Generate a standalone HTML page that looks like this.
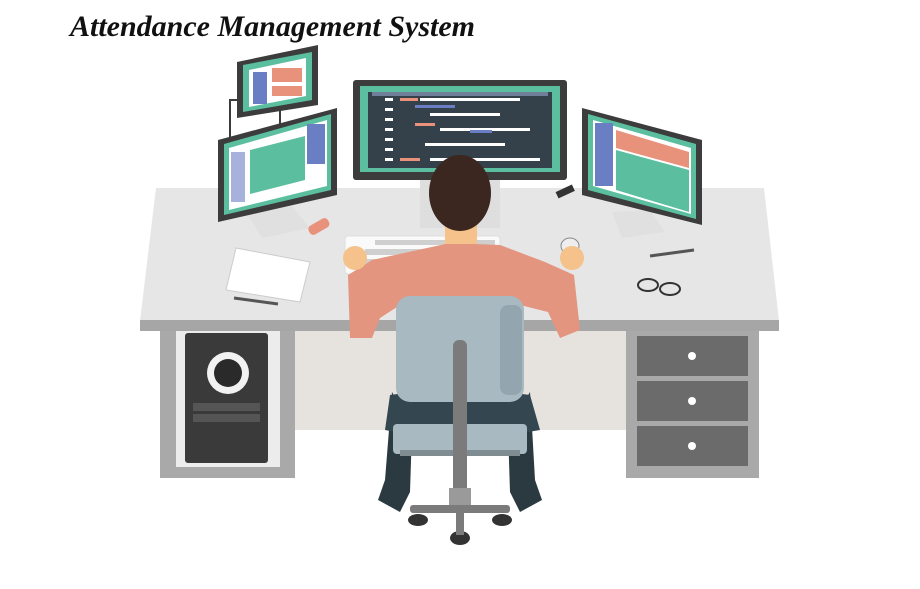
<!DOCTYPE html>
<html><head><style>html,body{margin:0;padding:0;background:#fff;width:920px;height:589px;overflow:hidden}</style></head>
<body>
<svg width="920" height="589" viewBox="0 0 920 589" xmlns="http://www.w3.org/2000/svg">
<rect width="920" height="589" fill="#fff"/>
<text x="70" y="36" font-family="Liberation Serif, serif" font-style="italic" font-weight="bold" font-size="30" fill="#111">Attendance Management System</text>

<!-- back panel under desk -->
<rect x="290" y="328" width="340" height="102" fill="#e6e3df"/>
<!-- desk top -->
<polygon points="156,188 764,188 779,321 140,321" fill="#e6e6e6"/>
<rect x="140" y="320" width="639" height="11" fill="#a6a6a6"/>
<!-- left leg -->
<rect x="160" y="331" width="135" height="147" fill="#a9a9a9"/>
<rect x="176" y="331" width="104" height="136" fill="#ececec"/>
<rect x="185" y="333" width="83" height="130" rx="3" fill="#3a3a3a"/>
<circle cx="228" cy="373" r="21" fill="#f2f2f2"/>
<circle cx="228" cy="373" r="14" fill="#2a2a2a"/>
<rect x="193" y="403" width="67" height="8" fill="#555"/>
<rect x="193" y="414" width="67" height="8" fill="#555"/>
<!-- right drawers -->
<rect x="626" y="331" width="133" height="147" fill="#a9a9a9"/>
<rect x="637" y="336" width="111" height="40" fill="#6b6b6b"/>
<rect x="637" y="381" width="111" height="40" fill="#6b6b6b"/>
<rect x="637" y="426" width="111" height="40" fill="#6b6b6b"/>
<circle cx="692" cy="356" r="4" fill="#fff"/><circle cx="692" cy="401" r="4" fill="#fff"/><circle cx="692" cy="446" r="4" fill="#fff"/>

<!-- center monitor -->
<rect x="420" y="178" width="80" height="50" fill="#dedede"/>
<rect x="353" y="80" width="214" height="100" rx="3" fill="#3c3c3c"/>
<rect x="360" y="86" width="200" height="86" fill="#5bbf9f"/>
<rect x="368" y="92" width="184" height="76" fill="#34404a"/>
<rect x="372" y="92" width="176" height="4" fill="#6f7f9a"/>
<g fill="#fff"><rect x="385" y="98" width="8" height="3"/><rect x="385" y="108" width="8" height="3"/><rect x="385" y="118" width="8" height="3"/><rect x="385" y="128" width="8" height="3"/><rect x="385" y="138" width="8" height="3"/><rect x="385" y="148" width="8" height="3"/><rect x="385" y="158" width="8" height="3"/>
<rect x="420" y="98" width="100" height="3"/><rect x="430" y="113" width="70" height="3"/><rect x="440" y="128" width="90" height="3"/><rect x="425" y="143" width="80" height="3"/><rect x="430" y="158" width="110" height="3"/></g>
<rect x="400" y="98" width="18" height="3" fill="#e8927c"/><rect x="415" y="105" width="40" height="3" fill="#6a7ec4"/><rect x="415" y="123" width="20" height="3" fill="#e8927c"/><rect x="470" y="130" width="22" height="3" fill="#6a7ec4"/><rect x="400" y="158" width="20" height="3" fill="#e8927c"/>

<!-- left top small monitor -->
<rect x="230" y="100" width="50" height="40" fill="#fff" stroke="#3c3c3c" stroke-width="2"/>
<polygon points="237,62 318,45 318,105 237,118" fill="#3c3c3c"/>
<polygon points="243,65 312,52 312,100 243,112" fill="#5bbf9f"/>
<polygon points="249,70 306,58 306,96 249,107" fill="#fff"/>
<rect x="253" y="72" width="14" height="32" fill="#6a7ec4"/>
<rect x="272" y="68" width="30" height="14" fill="#e8927c"/>
<rect x="272" y="86" width="30" height="10" fill="#e8927c"/>
<!-- left monitor -->
<polygon points="248,215 292,206 310,228 262,238" fill="#e0e0e0"/>
<polygon points="218,140 337,108 337,195 218,222" fill="#3c3c3c"/>
<polygon points="224,144 331,114 331,190 224,215" fill="#5bbf9f"/>
<polygon points="229,148 327,120 327,186 229,210" fill="#fff"/>
<polygon points="250,150 305,136 305,180 250,194" fill="#5bbf9f"/>
<rect x="307" y="124" width="18" height="40" fill="#6a7ec4"/>
<rect x="231" y="152" width="14" height="50" fill="#6a7ec4" opacity="0.6"/>
<!-- right monitor -->
<polygon points="612,212 650,210 665,232 622,238" fill="#e0e0e0"/>
<polygon points="582,108 702,140 702,225 582,195" fill="#3c3c3c"/>
<polygon points="588,114 696,144 696,219 588,190" fill="#5bbf9f"/>
<polygon points="593,120 691,148 691,214 593,186" fill="#fff"/>
<rect x="595" y="123" width="18" height="63" fill="#6a7ec4"/>
<polygon points="616,130 689,152 689,168 616,148" fill="#e8927c"/>
<polygon points="616,150 689,170 689,212 616,190" fill="#5bbf9f"/>
<!-- desk items -->
<polygon points="226,290 236,248 310,262 300,302" fill="#fff" stroke="#ccc"/>
<line x1="234" y1="298" x2="278" y2="304" stroke="#555" stroke-width="3"/>
<rect x="308" y="222" width="22" height="10" rx="4" fill="#e8927c" transform="rotate(-30 318 227)"/>
<rect x="556" y="188" width="18" height="7" fill="#333" transform="rotate(-25 565 191)"/>
<line x1="650" y1="256" x2="694" y2="250" stroke="#555" stroke-width="3"/>
<ellipse cx="648" cy="285" rx="10" ry="6" fill="none" stroke="#333" stroke-width="2"/>
<ellipse cx="670" cy="289" rx="10" ry="6" fill="none" stroke="#333" stroke-width="2"/>
<!-- keyboard -->
<rect x="345" y="236" width="155" height="38" rx="3" fill="#fafafa" stroke="#ddd"/>
<g fill="#cfcfcf"><rect x="375" y="240" width="120" height="5"/><rect x="365" y="249" width="70" height="6"/><rect x="365" y="259" width="40" height="6"/></g>
<ellipse cx="570" cy="246" rx="9" ry="8" fill="#eee" stroke="#888"/>

<!-- person -->
<path d="M348,275 L372,260 L450,243 L500,245 L545,262 L574,275 L580,330 L560,338 L548,312 L520,305 L400,305 L380,318 L372,338 L350,338 Z" fill="#e3957f"/>
<circle cx="355" cy="258" r="12" fill="#f4c28a"/>
<circle cx="572" cy="258" r="12" fill="#f4c28a"/>
<rect x="445" y="220" width="32" height="24" fill="#f4c28a"/>
<ellipse cx="460" cy="193" rx="31" ry="38" fill="#3b2620"/>
<!-- legs -->
<path d="M392,392 L385,480 L378,500 L400,512 L410,492 L412,430 Z" fill="#2b3a40"/>
<path d="M530,392 L535,480 L542,500 L520,512 L510,492 L508,430 Z" fill="#2b3a40"/>
<path d="M390,395 Q460,385 530,395 L540,430 Q460,445 385,430 Z" fill="#344650"/>
<!-- chair -->
<rect x="396" y="296" width="128" height="106" rx="14" fill="#a9b9c1"/>
<rect x="500" y="305" width="22" height="90" rx="8" fill="#93a6b0"/>
<rect x="393" y="424" width="134" height="30" rx="4" fill="#a9b9c1"/>
<rect x="400" y="450" width="120" height="6" fill="#7f8c92"/>
<rect x="453" y="340" width="14" height="160" rx="6" fill="#7b7b7b"/>
<rect x="449" y="488" width="22" height="18" fill="#9a9a9a"/>
<rect x="410" y="505" width="100" height="8" rx="3" fill="#7b7b7b"/>
<ellipse cx="418" cy="520" rx="10" ry="6" fill="#333"/>
<ellipse cx="502" cy="520" rx="10" ry="6" fill="#333"/>
<ellipse cx="460" cy="538" rx="10" ry="7" fill="#333"/>
<rect x="456" y="505" width="8" height="30" fill="#7b7b7b"/>
</svg>
</body></html>
